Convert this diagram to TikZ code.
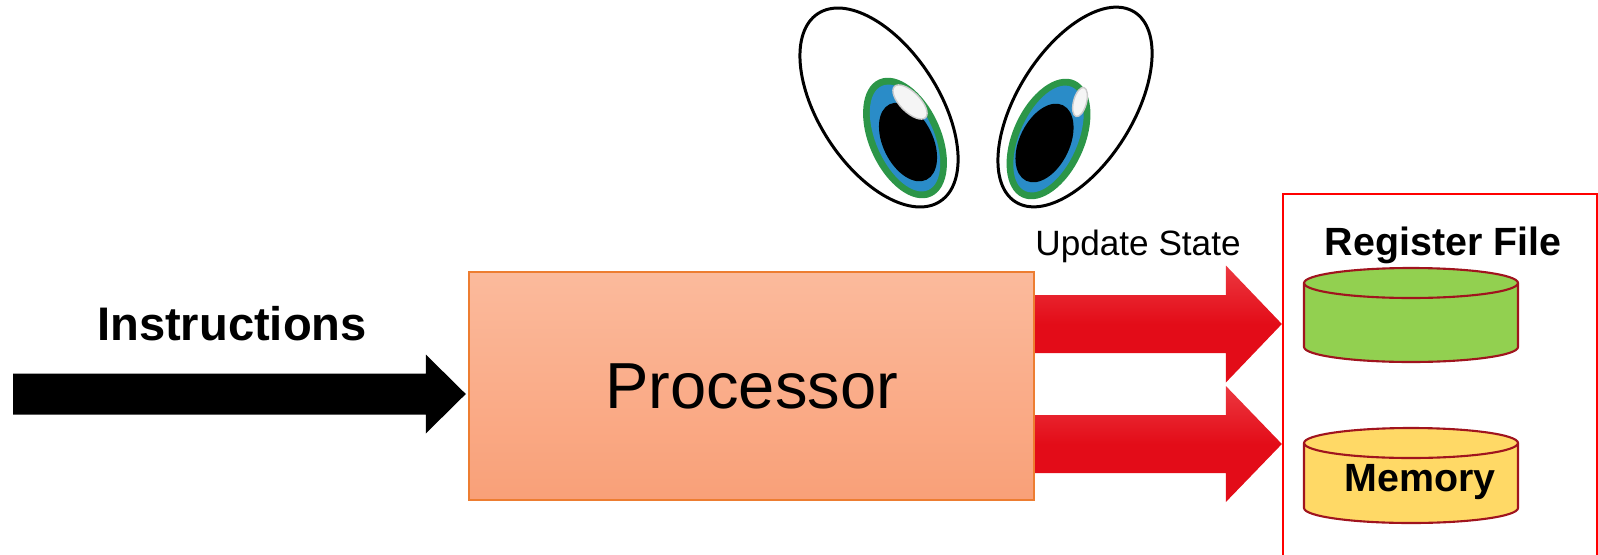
\documentclass[tikz,border=0pt]{standalone}
\usepackage{fontspec}
\setmainfont{Liberation Sans}
\usetikzlibrary{positioning, calc}

\definecolor{procTop}{RGB}{251,186,156}
\definecolor{procBot}{RGB}{249,160,120}
\definecolor{procLine}{RGB}{237,125,49}
\definecolor{arrowRed}{RGB}{227,12,24}
\definecolor{arrowTop}{RGB}{236,56,64}
\definecolor{rfGreen}{RGB}{146,208,80}
\definecolor{memYellow}{RGB}{255,217,102}
\definecolor{cylLine}{RGB}{160,20,30}
\definecolor{irisGreen}{RGB}{44,150,72}
\definecolor{irisBlue}{RGB}{42,140,200}

% fat block arrow: style, from, tip, shaft half width, head half width, head length
\newcommand{\fatarrow}[6]{%
  \path[#1] ($(#2)+(0,#4)$) -- ($(#3)+(-#6,#4)$) -- ($(#3)+(-#6,#5)$) -- (#3)
    -- ($(#3)+(-#6,-#5)$) -- ($(#3)+(-#6,-#4)$) -- ($(#2)+(0,-#4)$) -- cycle;}

% drum: style, centre x, top y, bottom y, x radius, y radius
\newcommand{\drum}[6]{%
  \filldraw[#1] (#2-#5,#3) -- (#2-#5,#4)
    arc[start angle=180, end angle=360, x radius=#5, y radius=#6]
    -- (#2+#5,#3)
    arc[start angle=0, end angle=180, x radius=#5, y radius=#6] -- cycle;
  \draw[#1, fill=none] (#2-#5,#3)
    arc[start angle=180, end angle=360, x radius=#5, y radius=#6];}

\begin{document}
\begin{tikzpicture}[
    x=0.01cm, y=0.01cm,
    proc/.style={rectangle, draw=procLine, line width=0.6pt, top color=procTop, bottom color=procBot,
                 minimum width=5.65cm, minimum height=2.28cm, font=\fontsize{18.5}{22}\selectfont},
    statebox/.style={rectangle, draw=red, line width=0.6pt, minimum width=3.14cm, minimum height=3.8cm},
    biglabel/.style={font=\fontsize{13.4}{16}\selectfont\bfseries},
    boldlabel/.style={font=\fontsize{11.2}{13}\selectfont\bfseries},
    plainlabel/.style={font=\fontsize{10}{12}\selectfont},
    inarrow/.style={fill=black},
    outarrow/.style={top color=arrowTop, bottom color=arrowRed, middle color=arrowRed, draw=none},
    drumline/.style={draw=cylLine, line width=0.6pt},
    eyeball/.style={draw=black, fill=white, line width=0.85pt}
]
\useasboundingbox (0,0) rectangle (1598,554);
\clip (0,0) rectangle (1598,554);

\node [proc] (proc) at (751.5,168) {Processor};
\node [statebox] (regs) at (1440,170) {};

% incoming instructions
\coordinate (srctip) at ($(proc.west)+(-2,-8)$);
\coordinate (src) at (13,0 |- srctip);
\fatarrow{inarrow}{src}{srctip}{20.5}{39.5}{40}
\node [biglabel] (instr) at (232,230) {Instructions};

% state updates
\coordinate (up1) at ($(proc.east)+(0,62)$);
\coordinate (up1tip) at (regs.west |- up1);
\coordinate (up2) at ($(proc.east)+(0,-58)$);
\coordinate (up2tip) at (regs.west |- up2);
\fatarrow{outarrow}{up1}{up1tip}{29}{58.5}{56}
\fatarrow{outarrow}{up2}{up2tip}{29}{58}{56}
\node [plainlabel] (update) at (1138,308) {Update State};

% register file and memory
\node [boldlabel] (rflabel) at (1443,309) {Register File};
\drum{drumline, fill=rfGreen}{1411}{271}{207}{107}{15}
\drum{drumline, fill=memYellow}{1411}{111}{46}{107}{15}
\node [boldlabel] (mem) at (1420,72) {Memory};

% eyes
\filldraw[eyeball, rotate around={33:(879,446.5)}] (879,446.5) ellipse [x radius=60, y radius=112];
\filldraw[eyeball, rotate around={-32:(1075,447)}] (1075,447) ellipse [x radius=58, y radius=112];

\fill[irisGreen, rotate around={24:(905,416)}] (905,416) ellipse [x radius=36, y radius=64];
\fill[irisBlue, rotate around={24:(905,416)}] (905,416) ellipse [x radius=29, y radius=57];
\fill[black, rotate around={26:(908,412)}] (908,412) ellipse [x radius=25, y radius=42];
\filldraw[draw=gray!40, fill=white!92!gray, rotate around={45:(910,452)}] (910,452) ellipse [x radius=10, y radius=22];

\fill[irisGreen, rotate around={-24:(1048.5,415)}] (1048.5,415) ellipse [x radius=36, y radius=64];
\fill[irisBlue, rotate around={-24:(1048.5,415)}] (1048.5,415) ellipse [x radius=29, y radius=57];
\fill[black, rotate around={-26:(1044.5,411)}] (1044.5,411) ellipse [x radius=25, y radius=42];
\filldraw[draw=gray!40, fill=white!92!gray, rotate around={-15:(1080,452)}] (1080,452) ellipse [x radius=6.5, y radius=15];
\end{tikzpicture}
\end{document}
